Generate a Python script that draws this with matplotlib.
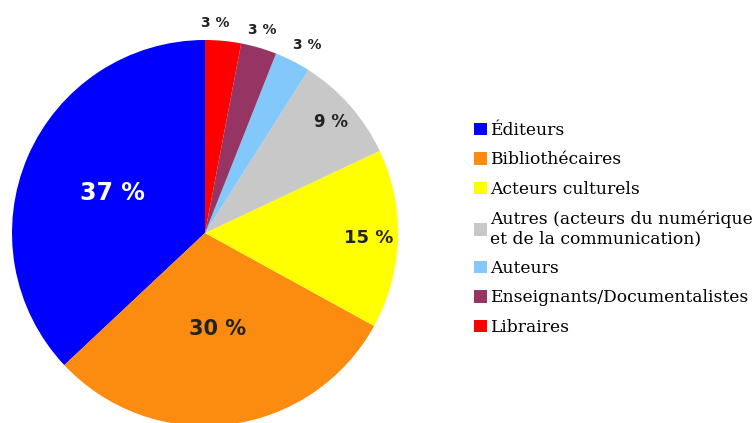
import matplotlib
matplotlib.use("Agg")
import matplotlib.pyplot as plt
import numpy as np

# Data
categories = ["Éditeurs", "Bibliothécaires", "Acteurs culturels",
              "Autres (acteurs du numérique\net de la communication)",
              "Auteurs", "Enseignants/Documentalistes", "Libraires"]
shares = [37, 30, 15, 9, 3, 3, 3]
colors = ["#0000ff", "#fb8c0f", "#ffff00", "#c8c8c8", "#82c8fa", "#963564", "#ff0000"]

# label styling per wedge
label_colors = ["white", "#222222", "#222222", "#222222", "#222222", "#222222", "#222222"]
label_sizes = [17, 15, 13, 12, 10, 10, 10]
label_radius = [0.52, 0.50, 0.85, 0.87, 1.11, 1.09, 1.09]
label_nudge = [0, 0, 0, 0, -1.5, 0.5, 2.7]  # degrees

W, H = 754, 423
fig = plt.figure(figsize=(W / 100, H / 100), dpi=100)

# pie centre / radius in pixels
cx, cy, r = 205, 233, 193
ax = fig.add_axes([(cx - r) / W, (H - cy - r) / H, 2 * r / W, 2 * r / H])
wedges, _ = ax.pie(shares, colors=colors, startangle=90, counterclock=True,
                   radius=1, wedgeprops=dict(linewidth=0))
ax.set_xlim(-1, 1)
ax.set_ylim(-1, 1)
ax.set_aspect("equal")
ax.axis("off")

for w, s, c, fs, rr, dn in zip(wedges, shares, label_colors, label_sizes, label_radius, label_nudge):
    ang = np.deg2rad((w.theta1 + w.theta2) / 2 + dn)
    ax.text(rr * np.cos(ang), rr * np.sin(ang), f"{s} %", ha="center", va="center",
            color=c, fontsize=fs, fontweight="bold", family="DejaVu Sans", clip_on=False)

fig.legend(wedges, categories, loc="upper left", bbox_to_anchor=(474 / W, 1 - 122 / H),
           frameon=False, prop=dict(family="DejaVu Serif", size=12.3),
           handlelength=0.75, handleheight=0.75, handletextpad=0.2,
           labelspacing=0.73, borderpad=0, borderaxespad=0)

fig.savefig("out.png", dpi=100)
